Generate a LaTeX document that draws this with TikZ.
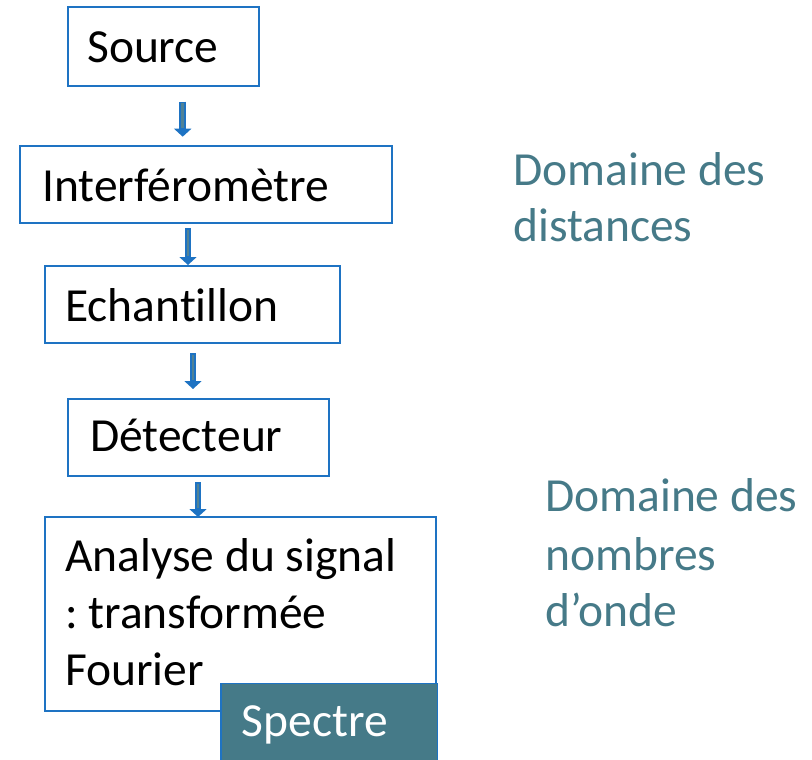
\documentclass[tikz,border=0pt]{standalone}
\usepackage{fontspec}
\setmainfont[Ligatures=NoCommon]{Carlito}
\usetikzlibrary{arrows.meta}
\definecolor{boxblue}{RGB}{30,115,195}
\definecolor{arrowfill}{RGB}{80,130,150}
\definecolor{tealtxt}{RGB}{70,122,136}
\definecolor{spectrefill}{RGB}{69,122,136}
\tikzset{
  box/.style={draw=boxblue, line width=1.8pt, fill=white, inner sep=0pt},
  lbl/.style={inner sep=0pt, anchor=base west, align=left, font=\fontsize{47.5}{56.7}\selectfont},
  domtxt/.style={lbl, text=tealtxt},
  flowout/.style={draw=boxblue, line width=6.5pt, -{Triangle[length=8pt,width=17pt]}},
  flowin/.style={draw=arrowfill, line width=2.6pt, shorten >=9pt, shorten <=1.8pt},
}
\frenchspacing
\begin{document}
\begin{tikzpicture}[x=1pt,y=-1pt]
\useasboundingbox (0,0) rectangle (812,760);
% boxes
\node[box, minimum width=191pt, minimum height=78.7pt] (src) at (163.2,46.65) {};
\node[box, minimum width=372pt, minimum height=77pt] (itf) at (206,184.2) {};
\node[box, minimum width=295pt, minimum height=77pt] (ech) at (192.5,304.5) {};
\node[box, minimum width=261.3pt, minimum height=77pt] (det) at (198.3,437.5) {};
\node[box, minimum width=390.7pt, minimum height=194pt] (ana) at (240.3,613.7) {};
\node[draw=boxblue, line width=1.2pt, fill=spectrefill, inner sep=0pt, minimum width=216.7pt, minimum height=84pt] (spe) at (329.35,725.3) {};
% texts
\node[lbl] (tsrc) at (87,63) {Source};
\node[lbl] (titf) at (42,201.7) {Interféromètre};
\node[lbl] (tech) at (65,321.7) {Echantillon};
\node[lbl] (tdet) at (90,451.7) {Détecteur};
\node[lbl] (tana1) at (65,571.7) {Analyse du signal};
\node[lbl] (tana2) at (65,628.3) {: transformée};
\node[lbl] (tana3) at (65,685) {Fourier};
\node[lbl, text=white] (tspe) at (241.7,736.7) {Spectre};
\node[domtxt] (dd1) at (513,185) {Domaine des};
\node[domtxt] (dd2) at (513,241.7) {distances};
\node[domtxt] (dn1) at (545,511.7) {Domaine des};
\node[domtxt] (dn2) at (545,570) {nombres};
\node[domtxt] (dn3) at (545,626.7) {d’onde};
% arrow end points
\coordinate (a1s) at (182.7,101.7); \coordinate (a1e) at (182.7,136.7);
\coordinate (a2s) at (188,228);     \coordinate (a2e) at (188,265);
\coordinate (a3s) at (193,353);     \coordinate (a3e) at (193,389);
\coordinate (a4s) at (198,482);     \coordinate (a4e) at (198,517);
\foreach \s/\e in {a1s/a1e,a2s/a2e,a3s/a3e,a4s/a4e}{
  \draw[flowout] (\s) -- (\e);
  \draw[flowin] (\s) -- (\e);
}
\end{tikzpicture}
\end{document}
